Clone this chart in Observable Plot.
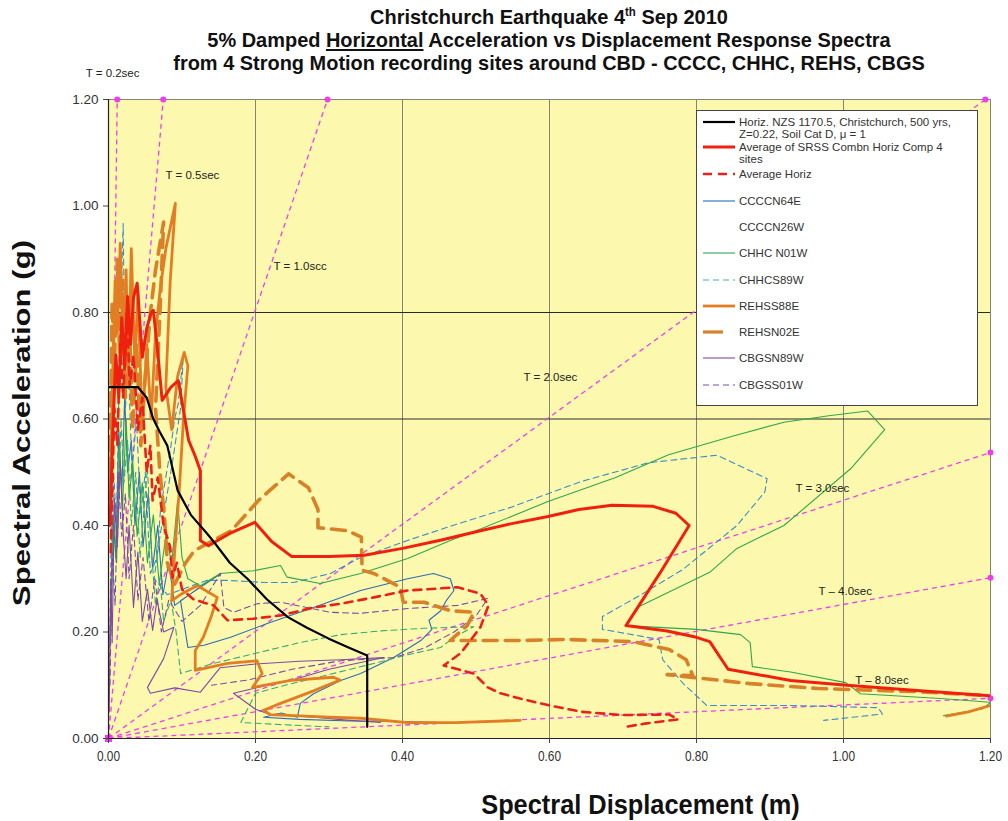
<!DOCTYPE html>
<html><head><meta charset="utf-8">
<script src="https://cdn.jsdelivr.net/npm/d3@7"></script>
<script src="https://cdn.jsdelivr.net/npm/@observablehq/plot@0.6"></script>
<style>
body{margin:0;background:#fff;width:1008px;height:821px;position:relative;overflow:hidden;font-family:"Liberation Sans",Arial,sans-serif}
#title{position:absolute;left:108px;width:882px;top:5px;text-align:center;font-family:"Liberation Sans",Arial,sans-serif;font-weight:bold;font-size:21px;line-height:23px;color:#111}
#title div{transform:scaleX(0.95);transform-origin:50% 50%;white-space:nowrap}
#title sup{font-size:12px;line-height:0;vertical-align:8px}
#chart{position:absolute;left:0;top:0}
#legend{position:absolute;left:696px;top:110px}
</style></head>
<body>
<div id="chart"></div>
<div id="title">
<div>Christchurch Earthquake 4<sup>th</sup> Sep 2010</div>
<div>5% Damped <u>Horizontal</u> Acceleration vs Displacement Response Spectra</div>
<div>from 4 Strong Motion recording sites around CBD - CCCC, CHHC, REHS, CBGS</div>
</div>
<div id="legend"></div>
<script>
// ---------- DATA ----------
const xTicks = [0, 0.2, 0.4, 0.6, 0.8, 1.0, 1.2];
const xTickLabels = ["0.00", "0.20", "0.40", "0.60", "0.80", "1.00", "1.20"];
const yTicks = [0, 0.2, 0.4, 0.6, 0.8, 1.0, 1.2];
const yTickLabels = ["0.00", "0.20", "0.40", "0.60", "0.80", "1.00", "1.20"];
const vGrid = [0.2, 0.4, 0.6, 0.8, 1.0, 1.2];
const hGrid = [0.6, 0.8];

// constant-period lines: end points (Sd, Sa)
const periodEndSd = [0.0119, 0.0745, 0.298, 1.193, 1.2, 1.2, 1.2];
const periodEndSa = [1.2, 1.2, 1.2, 1.2, 0.537, 0.302, 0.0755];
const periodLabels = ["T = 0.2sec", "T = 0.5sec", "T = 1.0scc", "T = 2.0sec", "T = 3.0sec", "T \u2013 4.0sec", "T \u2013 8.0sec"];
const periodLabelSd = [-0.031, 0.0776, 0.2245, 0.5646, 0.9347, 0.966, 1.016];
const periodLabelSa = [1.249, 1.057, 0.886, 0.678, 0.469, 0.276, 0.109];

const seriesNames = [
  "Horiz. NZS 1170.5, Christchurch, 500 yrs,\nZ=0.22, Soil Cat D, \u03bc = 1",
  "Average of SRSS Combn Horiz Comp 4\nsites",
  "Average Horiz",
  "CCCCN64E", "CCCCN26W", "CHHC N01W", "CHHCS89W",
  "REHSS88E", "REHSN02E", "CBGSN89W", "CBGSS01W"
];

const nzs = [[0,0.66],[0.04,0.66],[0.052,0.64],[0.061,0.60],[0.07,0.575],[0.08,0.55],[0.094,0.466],[0.112,0.42],[0.134,0.385],[0.143,0.37],[0.165,0.33],[0.189,0.30],[0.215,0.262],[0.244,0.228],[0.27,0.208],[0.299,0.188],[0.325,0.172],[0.352,0.156],[0.352,0.022]];

const srss = [[0.002,0.40],[0.006,0.58],[0.01,0.72],[0.014,0.64],[0.018,0.79],[0.022,0.70],[0.026,0.83],[0.03,0.74],[0.034,0.828],[0.039,0.855],[0.046,0.716],[0.052,0.77],[0.058,0.80],[0.061,0.804],[0.066,0.74],[0.073,0.635],[0.085,0.66],[0.095,0.672],[0.102,0.616],[0.109,0.56],[0.118,0.53],[0.125,0.503],[0.125,0.372],[0.136,0.362],[0.165,0.385],[0.199,0.406],[0.222,0.37],[0.249,0.342],[0.30,0.342],[0.348,0.344],[0.40,0.357],[0.45,0.372],[0.506,0.39],[0.547,0.403],[0.598,0.417],[0.64,0.43],[0.685,0.438],[0.741,0.436],[0.772,0.423],[0.79,0.40],[0.75,0.31],[0.704,0.212],[0.76,0.202],[0.80,0.19],[0.818,0.182],[0.843,0.13],[0.928,0.109],[1.005,0.10],[1.10,0.09],[1.2,0.08]];

const avgHoriz = [[0.003,0.35],[0.008,0.62],[0.012,0.55],[0.016,0.74],[0.02,0.64],[0.025,0.80],[0.029,0.66],[0.034,0.72],[0.04,0.58],[0.046,0.64],[0.052,0.50],[0.057,0.55],[0.06,0.447],[0.067,0.49],[0.075,0.40],[0.084,0.359],[0.087,0.302],[0.093,0.33],[0.10,0.28],[0.115,0.262],[0.13,0.255],[0.143,0.25],[0.162,0.222],[0.197,0.225],[0.234,0.231],[0.279,0.246],[0.316,0.253],[0.361,0.265],[0.407,0.278],[0.475,0.284],[0.506,0.272],[0.517,0.25],[0.506,0.209],[0.493,0.185],[0.479,0.16],[0.456,0.137],[0.497,0.122],[0.516,0.096],[0.533,0.085],[0.56,0.075],[0.60,0.062],[0.644,0.05],[0.70,0.044],[0.763,0.045],[0.775,0.036],[0.73,0.028],[0.704,0.022]];

const ccccN64E = [[0.002,0.18],[0.006,0.42],[0.01,0.34],[0.014,0.58],[0.018,0.46],[0.022,0.64],[0.026,0.50],[0.031,0.56],[0.036,0.40],[0.042,0.50],[0.047,0.36],[0.054,0.46],[0.06,0.32],[0.067,0.40],[0.074,0.27],[0.082,0.33],[0.09,0.25],[0.12,0.28],[0.153,0.31],[0.098,0.259],[0.108,0.171],[0.13,0.175],[0.166,0.19],[0.216,0.216],[0.279,0.246],[0.343,0.278],[0.407,0.30],[0.442,0.31],[0.465,0.30],[0.47,0.278],[0.46,0.26],[0.452,0.24],[0.436,0.222],[0.44,0.205],[0.425,0.184],[0.388,0.152],[0.343,0.122],[0.316,0.109],[0.279,0.084],[0.261,0.066],[0.257,0.04],[0.235,0.048],[0.211,0.04],[0.26,0.036],[0.33,0.033],[0.40,0.032],[0.45,0.03]];

const ccccN26W = [[0.003,0.22],[0.007,0.5],[0.011,0.4],[0.015,0.72],[0.02,0.967],[0.023,0.62],[0.027,0.7],[0.032,0.5],[0.038,0.6],[0.044,0.42],[0.05,0.5],[0.057,0.31],[0.066,0.34],[0.071,0.434],[0.084,0.54],[0.09,0.6],[0.095,0.63],[0.102,0.723],[0.098,0.62],[0.088,0.528],[0.08,0.46],[0.07,0.38],[0.062,0.3],[0.08,0.27],[0.11,0.285],[0.134,0.297],[0.162,0.297],[0.211,0.293],[0.252,0.293],[0.302,0.31],[0.343,0.34],[0.407,0.372],[0.475,0.403],[0.547,0.434],[0.644,0.483],[0.735,0.518],[0.828,0.532],[0.896,0.488],[0.893,0.463],[0.855,0.40],[0.782,0.318],[0.722,0.268],[0.672,0.229],[0.672,0.205],[0.749,0.186],[0.754,0.148],[0.782,0.103],[0.814,0.062],[0.928,0.062],[1.047,0.058],[1.053,0.046],[0.973,0.034]];

const chhcN01W = [[0.003,0.22],[0.007,0.42],[0.011,0.33],[0.015,0.55],[0.019,0.43],[0.024,0.60],[0.028,0.45],[0.033,0.52],[0.039,0.38],[0.046,0.48],[0.053,0.33],[0.061,0.42],[0.069,0.29],[0.078,0.38],[0.086,0.33],[0.094,0.447],[0.1,0.34],[0.108,0.30],[0.125,0.287],[0.152,0.31],[0.197,0.315],[0.234,0.325],[0.243,0.303],[0.288,0.291],[0.343,0.31],[0.407,0.338],[0.465,0.372],[0.507,0.394],[0.598,0.445],[0.69,0.49],[0.762,0.533],[0.85,0.568],[0.919,0.594],[0.98,0.606],[1.033,0.615],[1.056,0.58],[1.01,0.507],[0.919,0.40],[0.855,0.357],[0.818,0.312],[0.722,0.248],[0.704,0.212],[0.80,0.205],[0.86,0.195],[0.873,0.18],[0.876,0.135],[0.928,0.125],[1.003,0.105],[1.023,0.084],[1.132,0.075],[1.2,0.068],[1.19,0.056],[1.136,0.043]];

const chhcS89W = [[0.003,0.2],[0.008,0.45],[0.012,0.36],[0.017,0.6],[0.021,0.48],[0.026,0.56],[0.031,0.40],[0.037,0.50],[0.043,0.34],[0.05,0.46],[0.053,0.509],[0.058,0.36],[0.064,0.25],[0.07,0.30],[0.075,0.22],[0.085,0.26],[0.092,0.2],[0.098,0.122],[0.14,0.14],[0.2,0.16],[0.26,0.18],[0.316,0.195],[0.37,0.202],[0.429,0.207],[0.497,0.21],[0.47,0.19],[0.452,0.171],[0.40,0.155],[0.361,0.141],[0.30,0.12],[0.24,0.1],[0.2,0.085],[0.18,0.03],[0.25,0.025],[0.3,0.022]];

const rehsS88E = [[0.002,0.45],[0.006,0.7],[0.009,0.86],[0.012,0.76],[0.016,0.93],[0.02,0.72],[0.024,0.88],[0.027,0.66],[0.031,0.92],[0.036,0.70],[0.04,0.84],[0.046,0.58],[0.052,0.74],[0.058,0.6],[0.064,0.76],[0.07,0.84],[0.078,0.92],[0.091,1.005],[0.084,0.86],[0.078,0.66],[0.086,0.58],[0.094,0.68],[0.103,0.725],[0.108,0.70],[0.102,0.6],[0.096,0.46],[0.09,0.35],[0.086,0.259],[0.1,0.272],[0.108,0.278],[0.121,0.287],[0.148,0.265],[0.14,0.23],[0.129,0.19],[0.118,0.165],[0.118,0.128],[0.162,0.141],[0.202,0.146],[0.209,0.122],[0.196,0.096],[0.248,0.109],[0.306,0.115],[0.315,0.11],[0.28,0.09],[0.234,0.066],[0.211,0.053],[0.22,0.045],[0.30,0.04],[0.343,0.038],[0.407,0.03],[0.473,0.03],[0.56,0.034],[NaN,NaN],[1.2,0.062],[1.17,0.05],[1.14,0.042]];

const rehsN02E = [[0.002,0.5],[0.005,0.82],[0.008,0.7],[0.012,0.9],[0.015,0.72],[0.019,0.86],[0.023,0.64],[0.028,0.8],[0.033,0.58],[0.038,0.74],[0.044,0.55],[0.05,0.68],[0.057,0.8],[0.064,0.88],[0.075,0.97],[0.07,0.8],[0.064,0.62],[0.07,0.5],[0.076,0.42],[0.08,0.33],[0.09,0.29],[0.105,0.33],[0.117,0.353],[0.167,0.39],[0.204,0.447],[0.245,0.497],[0.272,0.471],[0.285,0.43],[0.285,0.396],[0.326,0.39],[0.344,0.378],[0.345,0.316],[0.361,0.31],[0.397,0.284],[0.401,0.256],[0.429,0.256],[0.465,0.24],[0.497,0.237],[0.488,0.212],[0.465,0.184],[0.52,0.184],[0.56,0.184],[0.621,0.186],[0.713,0.182],[0.763,0.167],[0.786,0.148],[0.795,0.118],[0.76,0.12],[0.873,0.103],[0.965,0.094],[1.10,0.088],[1.19,0.081]];

const cbgsN89W = [[0.001,0.05],[0.003,0.3],[0.005,0.18],[0.008,0.45],[0.012,0.36],[0.016,0.52],[0.02,0.385],[0.024,0.30],[0.028,0.40],[0.034,0.246],[0.04,0.35],[0.046,0.22],[0.053,0.28],[0.06,0.203],[0.066,0.26],[0.075,0.20],[0.089,0.209],[0.075,0.15],[0.053,0.096],[0.057,0.085],[0.09,0.095],[0.125,0.087],[0.152,0.133],[0.2,0.14],[0.26,0.145],[0.316,0.148],[0.375,0.152],[0.30,0.13],[0.25,0.11],[0.2,0.095],[0.17,0.085],[0.2,0.055],[0.22,0.045],[0.28,0.04],[0.32,0.035],[0.37,0.03]];

const cbgsS01W = [[0.002,0.1],[0.005,0.35],[0.009,0.25],[0.013,0.5],[0.018,0.38],[0.023,0.46],[0.028,0.3],[0.034,0.4],[0.04,0.26],[0.047,0.34],[0.055,0.22],[0.063,0.3],[0.072,0.2],[0.082,0.26],[0.1,0.22],[0.125,0.25],[0.148,0.3],[0.152,0.31],[0.157,0.246],[0.17,0.237],[0.202,0.253],[0.234,0.256],[0.302,0.237],[0.343,0.235],[0.407,0.244],[0.475,0.25],[0.516,0.263],[0.5,0.23],[0.47,0.2],[0.43,0.17],[0.388,0.152],[0.316,0.146],[0.25,0.13],[0.19,0.11],[0.14,0.1]];

// ---------- STYLES ----------
const styles = [
  {data: nzs,      stroke: "#000000", w: 2.2, dash: null},
  {data: srss,     stroke: "#f0200f", w: 3,   dash: null},
  {data: avgHoriz, stroke: "#e8221a", w: 2.6, dash: "8,6"},
  {data: ccccN64E, stroke: "#2b6db3", w: 1.1, dash: null},
  {data: ccccN26W, stroke: "#3a8dc8", w: 1.1, dash: "6,4", noLegend: true},
  {data: chhcN01W, stroke: "#2fa84c", w: 1.1, dash: null},
  {data: chhcS89W, stroke: "#35ab72", w: 1.1, dash: "6,4"},
  {data: rehsS88E, stroke: "#e37d24", w: 2.8, dash: null},
  {data: rehsN02E, stroke: "#d98128", w: 3.6, dash: "14,8"},
  {data: cbgsN89W, stroke: "#7c4aa6", w: 1.1, dash: null},
  {data: cbgsS01W, stroke: "#7c4aa6", w: 1.1, dash: "6,4"}
];
const drawOrder = [3, 4, 5, 6, 9, 10, 8, 7, 2, 1, 0];
const magenta = "#f03cf0";

const periods = periodEndSd.map((x, i) => ({x, y: periodEndSa[i]}));
const pLabels = periodLabels.map((t, i) => ({t, x: periodLabelSd[i], y: periodLabelSa[i]}));

const marks = [
  Plot.frame({fill: "#fcf9ae", stroke: null}),
  Plot.ruleX(vGrid, {x: d => d, stroke: "#858570", strokeWidth: 1}),
  Plot.ruleY([1.2], {y: d => d, stroke: "#858570", strokeWidth: 1}),
  Plot.ruleY(hGrid, {y: d => d, stroke: "#2a2a2a", strokeWidth: 1}),
  Plot.link(periods, {x1: 0, y1: 0, x2: "x", y2: "y", stroke: magenta, strokeWidth: 1.3, strokeDasharray: "5,4"}),
  Plot.dot(periods, {x: "x", y: "y", r: 3, fill: magenta, stroke: null}),
  Plot.dot([0], {x: d => d, y: d => d, r: 4, symbol: "square", fill: magenta, stroke: null})
];
for (const i of drawOrder) {
  const s = styles[i];
  marks.push(Plot.line(s.data, {x: d => d[0], y: d => d[1], stroke: s.stroke, strokeWidth: s.w,
    strokeDasharray: s.dash || undefined, strokeLinejoin: "round", clip: true}));
}
marks.push(
  Plot.ruleX([0], {x: d => d, stroke: "#222", strokeWidth: 1.2}),
  Plot.ruleY([0], {y: d => d, stroke: "#222", strokeWidth: 1.2}),
  Plot.ruleX(xTicks, {x: d => d, y1: 0, y2: 0, insetBottom: -5, stroke: "#444"}),
  Plot.ruleY(yTicks, {y: d => d, x1: 0, x2: 0, insetLeft: -5, stroke: "#444"}),
  Plot.text(xTicks, {x: d => d, y: 0, dy: 18, text: (d, i) => xTickLabels[i], fontSize: 14,
    fontFamily: "Liberation Sans, Arial, sans-serif", fill: "#333"}),
  Plot.text(yTicks, {x: 0, y: d => d, dx: -10, textAnchor: "end", text: (d, i) => yTickLabels[i], fontSize: 13.5,
    fontFamily: "Liberation Sans, Arial, sans-serif", fill: "#333"}),
  Plot.text(pLabels, {x: "x", y: "y", text: "t", textAnchor: "start", fontSize: 11.5, fill: "#222",
    fontFamily: "Liberation Sans, Arial, sans-serif"}),
  Plot.text(["Spectral Acceleration (g)"], {frameAnchor: "left", dx: -86, dy: 4, rotate: -90, text: d => d,
    textAnchor: "middle", lineAnchor: "middle",
    fontSize: 24, fontWeight: "bold", fill: "#111", fontFamily: "Liberation Sans, Arial, sans-serif"}),
  Plot.text(["Spectral Displacement (m)"], {frameAnchor: "bottom", dx: 91, dy: 67, text: d => d,
    textAnchor: "middle", lineAnchor: "middle",
    fontSize: 27, fontWeight: "bold", fill: "#111", fontFamily: "Liberation Sans, Arial, sans-serif"})
);

const chart = Plot.plot({
  width: 1008, height: 821,
  marginLeft: 108, marginRight: 18, marginTop: 99, marginBottom: 83,
  x: {domain: [0, 1.2], axis: null},
  y: {domain: [0, 1.2], axis: null},
  style: {background: "transparent", fontFamily: "Liberation Sans, Arial, sans-serif", overflow: "visible"},
  marks
});
document.getElementById("chart").appendChild(chart);

// stretch/condense titles and x tick labels along their reading direction
d3.select(chart).selectAll("text").each(function() {
  const t = this.textContent;
  let s = null;
  if (t === "Spectral Displacement (m)") s = 0.94;
  else if (t === "Spectral Acceleration (g)") s = 1.3;
  else if (xTickLabels.includes(t) && this.getAttribute("text-anchor") !== "end" &&
           (this.parentNode.getAttribute("text-anchor") !== "end")) s = 0.85;
  if (s) {
    const tr = this.getAttribute("transform") || "";
    this.setAttribute("transform", tr + ` scale(${s},1)`);
  }
});

// ---------- LEGEND ----------
const lg = d3.select("#legend").append("svg").attr("width", 282).attr("height", 296);
lg.append("rect").attr("x", 0.5).attr("y", 0.5).attr("width", 281).attr("height", 295)
  .attr("fill", "#fff").attr("stroke", "#444");
const rowY = [12, 37, 64, 91, 117, 143, 170, 196, 222, 248, 275];
styles.forEach((s, i) => {
  const y = rowY[i];
  if (!s.noLegend) {
    let x1 = 7, x2 = 39, dash = s.dash;
    if (i === 2) dash = "9,6";
    if (i === 8) { x2 = 27; dash = null; }
    lg.append("line").attr("x1", x1).attr("x2", x2).attr("y1", y).attr("y2", y)
      .attr("stroke", i === 6 ? "#3ab3a6" : s.stroke).attr("stroke-width", Math.min(s.w, 3.2))
      .attr("stroke-dasharray", dash || null);
  }
  const lines = seriesNames[i].split("\n");
  lines.forEach((t, k) => {
    lg.append("text").attr("x", 43).attr("y", y + 4 + k * 12).text(t)
      .attr("font-size", 11.5).attr("fill", "#333").attr("font-family", "Liberation Sans, Arial, sans-serif");
  });
});
</script>
</body></html>
